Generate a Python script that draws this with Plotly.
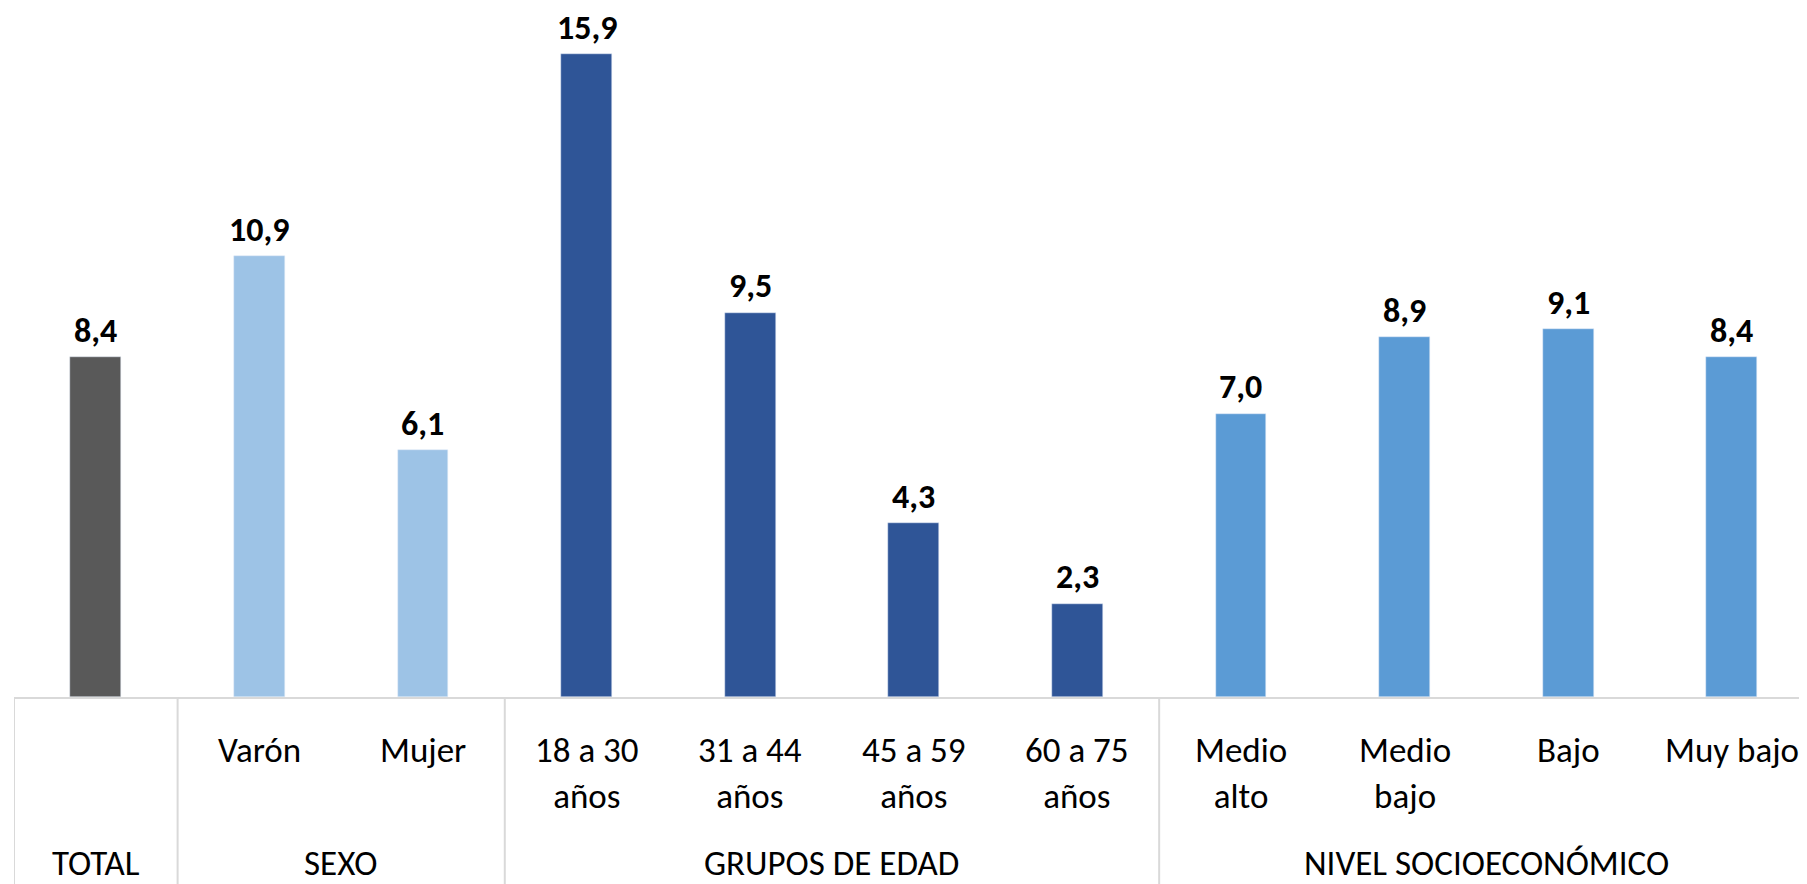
import plotly.graph_objects as go

# categories, in plotting order
labels = ["TOTAL", "Varón", "Mujer", "18 a 30<br>años", "31 a 44<br>años",
          "45 a 59<br>años", "60 a 75<br>años", "Medio<br>alto", "Medio<br>bajo",
          "Bajo", "Muy bajo"]
values = [8.4, 10.9, 6.1, 15.9, 9.5, 4.3, 2.3, 7.0, 8.9, 9.1, 8.4]
groups = ["TOTAL", "SEXO", "SEXO", "GRUPOS DE EDAD", "GRUPOS DE EDAD",
          "GRUPOS DE EDAD", "GRUPOS DE EDAD", "NIVEL SOCIOECONÓMICO",
          "NIVEL SOCIOECONÓMICO", "NIVEL SOCIOECONÓMICO", "NIVEL SOCIOECONÓMICO"]
group_colors = {"TOTAL": "#595959", "SEXO": "#9DC3E6",
                "GRUPOS DE EDAD": "#2F5597", "NIVEL SOCIOECONÓMICO": "#5B9BD5"}

FONT = "Carlito, Calibri, Lato, sans-serif"
GRID = "#d9d9d9"

# page has an 8px body margin, so the figure is a bit smaller than the window
W, H = 1799, 876
PLOT_H = 689
BOTTOM = H - PLOT_H

x = list(range(len(labels)))
fig = go.Figure(go.Bar(
    x=x, y=values, width=0.31,
    marker_color=[group_colors[g] for g in groups],
    hoverinfo="skip",
))

annotations = []
# value labels above bars
for i, v in enumerate(values):
    annotations.append(dict(x=i, y=v, xref="x", yref="y", yanchor="middle",
                            yshift=27, showarrow=False,
                            text=f"<b>{v:.1f}</b>".replace(".", ","),
                            font=dict(size=34, color="black", family=FONT)))
# category labels
for i, lab in enumerate(labels):
    if groups[i] == "TOTAL":
        continue
    annotations.append(dict(x=i, y=-30 / PLOT_H, xref="x", yref="paper", yanchor="top",
                            showarrow=False, text=lab, align="center",
                            font=dict(size=35, color="black", family=FONT)))
# group labels, centred on their categories
order = []
for g in groups:
    if g not in order:
        order.append(g)
shapes = []
for g in order:
    idx = [i for i, gg in enumerate(groups) if gg == g]
    annotations.append(dict(x=(idx[0] + idx[-1]) / 2, y=-166 / PLOT_H, xref="x",
                            yref="paper", yanchor="middle", showarrow=False, text=g,
                            font=dict(size=35, color="black", family=FONT)))
    # divider at the left edge of each group
    shapes.append(dict(type="line", xref="x", yref="paper",
                       x0=idx[0] - 0.5, x1=idx[0] - 0.5, y0=0, y1=-BOTTOM / PLOT_H,
                       line=dict(color=GRID, width=2)))

fig.update_layout(
    width=W, height=H,
    margin=dict(l=6, r=0, t=0, b=BOTTOM),
    plot_bgcolor="white", paper_bgcolor="white",
    showlegend=False,
    annotations=annotations,
    shapes=shapes,
    xaxis=dict(range=[-0.5, 10.46], showticklabels=False, ticks="",
               showgrid=False, zeroline=False, showline=True,
               linecolor=GRID, linewidth=2),
    yaxis=dict(range=[0, PLOT_H / 40.44], visible=False),
    bargap=0,
)

fig.write_html("out.html")
